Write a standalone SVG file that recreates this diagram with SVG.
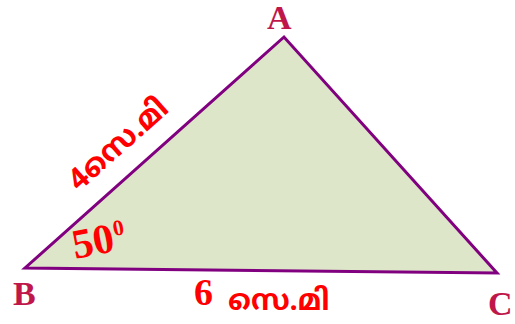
<svg xmlns="http://www.w3.org/2000/svg" width="515" height="324" viewBox="0 0 515 324">
<style>
.vl{font-family:"Liberation Serif","DejaVu Serif",serif;font-weight:bold;font-size:34px;fill:#c0174a}
.ml{font-family:"Noto Sans Malayalam","Noto Sans","DejaVu Sans",sans-serif;font-weight:bold;font-size:29px;fill:#ff0000}
.num{font-family:"Liberation Serif","DejaVu Serif",serif;font-weight:bold;fill:#ff0000}
</style>
<rect width="515" height="324" fill="#ffffff"/>
<g id="triangle">
<polygon points="284,37 25,268 497,273" fill="#dde6c8" stroke="#800080" stroke-width="3" stroke-linejoin="miter"/>
</g>
<g id="A"><text class="vl" x="267" y="29">A</text></g>
<g id="B"><text class="vl" x="13" y="305">B</text></g>
<g id="C"><text class="vl" x="488" y="315">C</text></g>
<g id="lblAB"><text class="ml" style="font-size:30px" transform="translate(79,192) rotate(-41.7)">4സെ.മി</text></g>
<g id="lblBC">
<text class="num" style="font-size:38px" x="194" y="305">6</text>
<text class="ml" x="228" y="310">സെ.മി</text>
</g>
<g id="angle"><text class="num" style="font-size:42px" transform="translate(75,259) rotate(-11)">50<tspan style="font-size:22px" dy="-15" dx="1">0</tspan></text></g>
</svg>
